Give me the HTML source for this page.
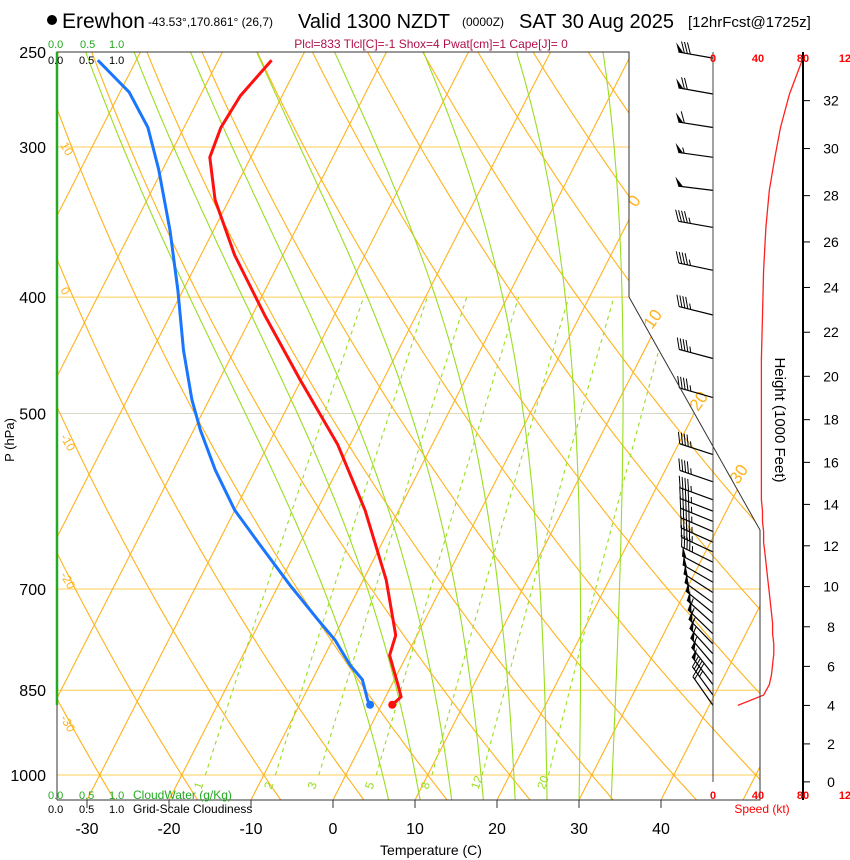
<!DOCTYPE html>
<html><head><meta charset="utf-8"><style>
body{margin:0;background:#fff;}
svg{display:block;font-family:"Liberation Sans",Arial,sans-serif;}
</style></head><body>
<svg id="chart" width="850" height="860" viewBox="0 0 850 860" xmlns="http://www.w3.org/2000/svg">
<defs><clipPath id="plotclip"><polygon points="57,52 629,52 629,297 760,530 760,800 57,800"/></clipPath></defs>
<rect width="850" height="860" fill="#fff"/>
<g>
<circle cx="52" cy="20" r="5" fill="#000"/>
<text x="62" y="28" font-size="21">Erewhon</text>
<text x="148" y="26" font-size="12">-43.53°,170.861° (26,7)</text>
<text x="298" y="28" font-size="20">Valid 1300 NZDT</text>
<text x="462" y="26" font-size="12">(0000Z)</text>
<text x="519" y="28" font-size="20">SAT 30 Aug 2025</text>
<text x="688" y="27" font-size="15">[12hrFcst@1725z]</text>
</g>
<text x="431" y="48" font-size="12" fill="#b0104a" text-anchor="middle">Plcl=833 Tlcl[C]=-1 Shox=4 Pwat[cm]=1 Cape[J]= 0</text>
<g id="bg" clip-path="url(#plotclip)"></g>
<g id="fg"></g>
<g id="axes"></g>
<text x="431" y="855" font-size="14" text-anchor="middle">Temperature (C)</text>
<text x="14" y="440" font-size="13" text-anchor="middle" transform="rotate(-90 14 440)">P (hPa)</text>
<g font-size="11">
<text x="48" y="48" fill="#22aa22">0.0</text><text x="80" y="48" fill="#22aa22">0.5</text><text x="109" y="48" fill="#22aa22">1.0</text>
<text x="48" y="64">0.0</text><text x="79" y="64">0.5</text><text x="109" y="64">1.0</text>
</g>
<g font-size="11">
<text x="48" y="799" fill="#22aa22">0.0</text><text x="79" y="799" fill="#22aa22">0.5</text><text x="109" y="799" fill="#22aa22">1.0</text><text x="133" y="799" fill="#22aa22" font-size="12">CloudWater (g/Kg)</text>
<text x="48" y="813">0.0</text><text x="79" y="813">0.5</text><text x="109" y="813">1.0</text><text x="133" y="813" font-size="12">Grid-Scale Cloudiness</text>
</g>
</svg>
<script>
// ---- data ----
const tempP = [254,272,289,306,332,369,414,469,531,602,688,765,795,842,861,874];
const tempT = [-53.5,-55.1,-55.5,-55,-51.7,-45.9,-38.5,-30.1,-21.5,-14.1,-7.2,-2.6,-2.1,0.8,1.9,1.3];
const dewP = [254,270,289,313,352,395,443,487,516,557,602,643,695,743,772,810,833,866,874];
const dewT = [-74.7,-68.9,-64.4,-60.5,-55.3,-50.6,-46.2,-42.1,-39.2,-34.9,-30,-24.8,-18.6,-13,-9.7,-6.3,-3.9,-2.0,-1.4];
const windP = [253,271,289,306,326,350,380,414,450,485,541,570,590,603,615,627,640,652,665,678,691,705,719,733,748,763,778,793,809,825,841,858,875];
const windDir = [280,280,279,278,277,280,282,284,285,286,288,289,290,291,292,293,294,295,296,298,300,303,306,309,312,314,316,318,320,322,323,324,325];
const windSpd = [80,68,60,55,50,47,45,44,43,43,43,43,43,44,44,45,45,46,47,48,49,50,51,52,53,53,54,54,53,52,50,45,22];
const tempTicks = [-30,-20,-10,0,10,20,30,40];
const presTicks = [250,300,400,500,700,850,1000];
const heightTicks = [0,2,4,6,8,10,12,14,16,18,20,22,24,26,28,30,32];
const mixRatios = [1,2,3,5,8,12,20];
const isoThetas = [-60,-50,-40,-30,-20,-10,0,10,20,30,40,50,60,70,80,90,100,110,120,130,140,150];
const moistStarts = [4.5,8.5,12.5,16.5,20.5,24.5,28.5,32.5];
const speedTicks = [0,40,80,120];
// ---- axis functions ----
function yOf(p){return 775-521.6*Math.log(1000/p);}
function xOf(T,p){return 333+8.2*T+0.51*(800-yOf(p));}
function sx(s){return 713+s*45/40;}
function pOfH(kft){return 1013.25*Math.pow(1-6.8756e-6*kft*1000,5.2559);}
const NS="http://www.w3.org/2000/svg";
function el(tag,attrs,parent){const e=document.createElementNS(NS,tag);for(const k in attrs)e.setAttribute(k,attrs[k]);parent.appendChild(e);return e;}
const bg=document.getElementById('bg'),fg=document.getElementById('fg'),ax=document.getElementById('axes');
const OR="#ffb21c",GR="#99dd22";
function pathOf(pts){return pts.map((q,i)=>(i?'L':'M')+q[0].toFixed(1)+','+q[1].toFixed(1)).join('');}
presTicks.forEach(p=>{
  const l=el('line',{x1:57,x2:760,y1:yOf(p),y2:yOf(p),stroke:(p==500?"#d8d8c8":"#ffcc55"),'stroke-width':1},bg);
  
  
});
for(let T=-110;T<=60;T+=10){
  const l=el('line',{x1:xOf(T,1060),y1:yOf(1060),x2:xOf(T,240),y2:yOf(240),stroke:OR,'stroke-width':1.1},bg);
  
  
}
isoThetas.forEach(th=>{
  const pts=[];for(let p=1060;p>=240;p-=10){pts.push([xOf((th+273.15)*Math.pow(p/1000,0.286)-273.15,p),yOf(p)]);}
  const e=el('path',{d:pathOf(pts),fill:'none',stroke:OR,'stroke-width':1.1},bg);
  
  
});
function es(T){return 6.112*Math.exp(17.67*T/(T+243.5));}
function dTdp(Tc,p){const T=Tc+273.15,e=es(Tc),rs=0.622*e/(p-e);return (287*T+2.5e6*rs)/(p*(1004+2.5e6*2.5e6*rs*0.622/(287*T*T)));}
moistStarts.forEach(T0=>{
  let pts=[];let T=T0;
  for(let p=1000;p>=250;p-=2){pts.push([xOf(T,p),yOf(p)]);T-=dTdp(T,p)*2;}
  T=T0;const low=[];
  for(let p=1000;p<=1060;p+=2){low.unshift([xOf(T,p),yOf(p)]);T+=dTdp(T,p)*2;}
  pts=low.concat(pts);
  const e=el('path',{d:pathOf(pts),fill:'none',stroke:GR,'stroke-width':1.1},bg);
  
  
});
mixRatios.forEach(w=>{
  const pts=[];
  for(let p=1000;p>=400;p-=10){const e=w*p/(622+w),l=Math.log(e/6.112);pts.push([xOf(243.5*l/(17.67-l),p),yOf(p)]);}
  const e=el('path',{d:pathOf(pts),fill:'none',stroke:GR,'stroke-width':1.1,'stroke-dasharray':'4,4'},bg);
  
  
  const t=el('text',{x:pts[0][0]-4,y:790,'font-size':12,fill:GR,transform:'rotate(-70 '+(pts[0][0]-4)+' 790)'},fg);
  t.textContent=w;
  
  
});
[[10,145],[0,290],[-10,437],[-20,575],[-30,718]].forEach(a=>{
  const t=el('text',{x:60,y:a[1],'font-size':12,fill:OR,transform:'rotate(60 60 '+a[1]+')'},fg);t.textContent=a[0];
  
  
});
[[0,636,208],[10,652,330],[20,698,412],[30,738,485]].forEach(a=>{
  const t=el('text',{x:a[1],y:a[2],'font-size':17,fill:OR,transform:'rotate(-55 '+a[1]+' '+a[2]+')'},fg);t.textContent=a[0];
  
  
});
const fr=el('polyline',{points:'57,800 57,52 629,52 629,297 760,530 760,800 57,800',fill:'none',stroke:'#333','stroke-width':1},ax);


el('line',{x1:57,y1:52,x2:57,y2:705,stroke:'#22aa22','stroke-width':2.5},ax);
function profile(P,T,color,name){
  const pts=P.map((p,i)=>[xOf(T[i],p),yOf(p)]);
  const e=el('path',{d:pathOf(pts),fill:'none',stroke:color,'stroke-width':3,'stroke-linejoin':'round'},fg);
  
  
  const last=pts[pts.length-1];
  const c=el('circle',{cx:last[0],cy:last[1],r:4,fill:color},fg);
  
  
}
profile(tempP,tempT,'#ff1010','temperature-line');
profile(dewP,dewT,'#1a75ff','dewpoint-line');
el('line',{x1:713,y1:52,x2:713,y2:782,stroke:'#444','stroke-width':1},ax);
el('line',{x1:803,y1:52,x2:803,y2:800,stroke:'#000','stroke-width':2},ax);
heightTicks.forEach(h=>{
  const y=yOf(pOfH(h));
  el('line',{x1:803,x2:810,y1:y,y2:y,stroke:'#000'},ax);
  const t=el('text',{x:831,y:y+5,'font-size':14,'text-anchor':'middle'},ax);t.textContent=h;
  
  
});
const ht=el('text',{x:775,y:420,'font-size':15,'text-anchor':'middle',transform:'rotate(90 775 420)'},ax);ht.textContent='Height (1000 Feet)';


speedTicks.forEach(s=>{
  [62,799].forEach(y=>{
    const t=el('text',{x:sx(s),y:y,'font-size':11,'font-weight':'bold',fill:'#ff0000','text-anchor':'middle'},ax);t.textContent=s;
    
    
  });
});
const st=el('text',{x:762,y:813,'font-size':12,fill:'#ff0000','text-anchor':'middle'},ax);st.textContent='Speed (kt)';


const sp=el('path',{d:pathOf(windP.map((p,i)=>[sx(windSpd[i]),yOf(p)])),fill:'none',stroke:'#ff2020','stroke-width':1.3},fg);


windP.forEach((p,i)=>{
  const g=el('g',{},fg);
  
  
  const d=windDir[i]*Math.PI/180,ux=Math.sin(d),uy=-Math.cos(d);
  const x0=713,y0=yOf(p),L=35,x1=x0+ux*L,y1=y0+uy*L;
  el('line',{x1:x0,y1:y0,x2:x1,y2:y1,stroke:'#000','stroke-width':1.2},g);
  const a=66*Math.PI/180,fx=ux*Math.cos(a)-uy*Math.sin(a),fy=ux*Math.sin(a)+uy*Math.cos(a);
  let s=Math.round(windSpd[i]/5)*5,pos=0;
  while(s>=50){const bx=x1-ux*pos,by=y1-uy*pos,cx=x1-ux*(pos+5),cy=y1-uy*(pos+5);
    el('polygon',{points:bx+','+by+' '+(bx+fx*10)+','+(by+fy*10)+' '+cx+','+cy,fill:'#000'},g);pos+=6;s-=50;}
  while(s>=10){const bx=x1-ux*pos,by=y1-uy*pos;el('line',{x1:bx,y1:by,x2:bx+fx*12,y2:by+fy*12,stroke:'#000','stroke-width':1},g);pos+=3;s-=10;}
  if(s>=5){const bx=x1-ux*pos,by=y1-uy*pos;el('line',{x1:bx,y1:by,x2:bx+fx*6,y2:by+fy*6,stroke:'#000','stroke-width':1},g);}
});
presTicks.forEach(p=>{
  const t=el('text',{x:46,y:yOf(p)+6,'font-size':16,'text-anchor':'end'},ax);t.textContent=p;
  
  
});
tempTicks.forEach(T=>{
  const x=333+8.2*T;
  el('line',{x1:x,x2:x,y1:800,y2:808,stroke:'#333'},ax);
  const t=el('text',{x:x,y:834,'font-size':16,'text-anchor':'middle'},ax);t.textContent=T;
  
  
});
</script>
</body></html>
